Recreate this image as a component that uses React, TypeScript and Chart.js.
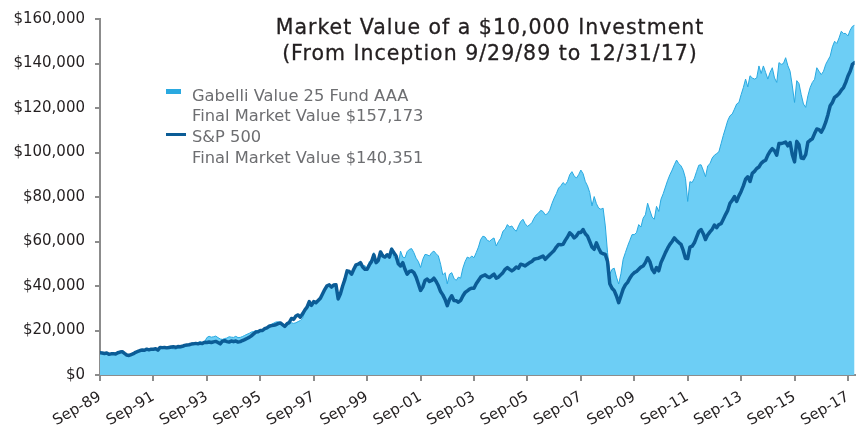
import React, { useEffect, useRef } from "react";
import { Chart, registerables } from "chart.js";

Chart.register(...registerables);

// Monthly, Sep-89 (index 0) through Dec-17 (index 339); values in $ thousands
const xTickLabels = [
  "Sep-89", "Sep-91", "Sep-93", "Sep-95", "Sep-97", "Sep-99", "Sep-01", "Sep-03",
  "Sep-05", "Sep-07", "Sep-09", "Sep-11", "Sep-13", "Sep-15", "Sep-17",
];

const gabelliK = [
  10.0, 9.8, 9.6, 9.7, 9.2, 9.4, 9.5, 9.3, 9.8, 10.1, 10.2, 9.5,
  8.8, 8.6, 9.0, 9.4, 10.0, 10.5, 10.9, 11.1, 11.0, 11.4, 11.2, 11.5,
  11.5, 11.6, 11.0, 12.1, 12.2, 12.3, 12.1, 11.9, 11.9, 11.8, 11.6, 12.0,
  12.1, 12.3, 12.6, 13.0, 13.5, 14.0, 14.3, 14.5, 14.6, 15.0, 14.5, 14.9,
  16.8, 17.4, 17.0, 17.2, 17.5, 16.8, 16.2, 16.0, 16.4, 16.6, 17.2, 17.0,
  16.9, 17.4, 16.8, 16.9, 17.3, 17.8, 18.3, 18.7, 19.3, 19.5, 20.0, 19.9,
  20.2, 20.4, 21.0, 21.5, 22.3, 22.8, 23.3, 23.8, 23.9, 23.6, 22.7, 22.5,
  23.0, 22.8, 23.5, 23.2, 23.5, 24.0, 24.5, 25.5, 28.5, 29.5, 31.0, 32.0,
  33.0, 32.8, 33.8, 34.5, 36.5, 38.5, 40.0, 40.5, 39.8, 40.8, 40.8, 35.0,
  36.8, 40.2, 43.0, 46.5, 46.5, 46.5, 47.5, 49.0, 50.5, 50.0, 48.8, 49.2,
  48.0, 51.0, 52.0, 55.0, 51.5, 52.5, 55.8, 54.5, 53.5, 54.5, 54.0, 57.2,
  53.0, 52.0, 49.8, 55.7, 53.0, 52.7, 55.5, 56.5, 56.8, 55.0, 52.5, 51.0,
  48.3, 52.0, 54.2, 54.0, 53.5, 55.0, 55.7, 54.5, 53.5, 49.8, 45.0, 46.0,
  41.0, 45.3, 46.0, 43.5, 42.5, 44.0, 43.5, 48.0, 51.0, 53.0, 52.5, 53.5,
  52.7, 55.0, 57.5, 60.9, 62.4, 62.0, 60.5, 60.1, 61.0, 61.6, 58.0, 60.0,
  61.5, 64.6, 65.5, 67.6, 66.5, 67.0, 65.5, 64.6, 67.0, 69.0, 70.0, 68.0,
  66.8, 67.5, 68.5, 70.5, 72.0, 72.8, 74.0, 73.5, 72.0, 72.5, 74.0, 77.0,
  79.5, 81.5, 84.0, 85.0, 86.5, 85.5, 87.0, 90.0, 91.4, 89.5, 88.5, 90.0,
  92.1, 90.5, 87.0, 85.0, 82.0, 76.0, 80.2, 77.0, 75.0, 74.5, 75.0, 67.0,
  55.0, 45.3, 47.5, 48.0, 44.0, 40.9, 45.5, 52.0, 55.0, 57.9, 60.5, 63.1,
  63.1, 64.0, 67.6, 66.5, 70.5, 72.0, 77.2, 74.0, 71.0, 70.0, 75.8, 73.5,
  79.0, 81.5, 84.5, 87.5, 90.0, 92.1, 94.5, 96.6, 95.0, 94.0, 92.0, 88.4,
  78.0, 86.9, 86.5, 88.4, 91.5, 94.3, 94.5, 92.0, 89.1, 94.0, 95.0, 97.5,
  98.8, 99.5, 100.3, 104.0, 107.7, 111.0, 114.4, 116.5, 117.3, 119.5, 121.8, 122.5,
  126.0, 129.2, 133.0, 129.5, 134.5, 133.5, 133.0, 133.5, 138.9, 135.5, 138.9, 136.0,
  133.0, 136.0, 138.1, 133.5, 131.5, 140.4, 139.6, 140.0, 142.6, 139.0, 136.5, 129.9,
  122.5, 132.3, 131.0, 126.0, 121.8, 120.3, 125.5, 129.2, 131.5, 132.9, 138.1, 136.5,
  135.0, 136.5, 139.6, 141.5, 143.3, 147.5, 150.0, 149.0, 151.5, 154.5, 153.5, 153.5,
  152.4, 155.0, 156.7, 157.2,
];

const sp500K = [
  10.0, 9.9, 9.7, 9.9, 9.3, 9.5, 9.6, 9.4, 10.0, 10.3, 10.5, 9.7,
  9.0, 8.8, 9.2, 9.6, 10.2, 10.6, 11.0, 11.2, 11.1, 11.6, 11.3, 11.6,
  11.6, 11.8, 11.2, 12.4, 12.3, 12.4, 12.2, 12.4, 12.6, 12.7, 12.4, 12.8,
  12.7, 12.9, 13.3, 13.5, 13.6, 13.9, 14.0, 14.2, 14.0, 14.3, 14.2, 14.7,
  14.6, 14.8, 14.6, 14.9, 15.1, 14.6, 14.0, 15.2, 15.4, 15.0, 14.8, 15.3,
  15.0, 15.3, 14.8, 15.0, 15.5, 15.9, 16.4, 16.9, 17.6, 18.5, 19.3, 19.4,
  20.0, 20.0, 20.8, 21.2, 21.9, 22.2, 22.4, 22.6, 23.1, 23.4, 22.6, 21.8,
  23.0, 23.6, 25.4, 25.0, 26.5, 27.0, 26.0, 27.5, 29.2, 30.5, 33.0, 31.3,
  33.0, 32.5, 33.5, 34.5, 36.5, 38.5, 40.1, 40.5, 39.5, 40.5, 40.6, 34.2,
  36.5, 40.0, 43.0, 46.8, 46.5, 45.3, 47.5, 49.5, 49.8, 50.5, 48.5, 47.5,
  47.5, 49.5, 51.0, 54.0, 50.5, 51.5, 55.3, 53.5, 53.0, 54.0, 53.0, 56.5,
  55.0, 53.5, 50.0, 49.0, 50.5, 47.5, 45.3, 46.5, 46.8, 46.0, 44.0, 41.0,
  38.0, 39.5, 42.5, 43.1, 42.0, 42.5, 43.5, 42.0, 40.1, 37.5, 36.0, 34.0,
  31.2, 34.0, 35.6, 33.5, 33.4, 32.7, 33.5, 35.5, 37.1, 37.8, 38.6, 39.0,
  39.0, 41.0, 42.5, 44.0, 44.6, 45.0, 44.2, 43.8, 44.6, 45.3, 43.5, 44.0,
  45.0, 46.0, 47.5, 48.3, 47.5, 46.8, 47.5, 48.5, 48.0, 49.8, 49.5, 49.0,
  49.8, 50.5, 51.0, 52.0, 52.3, 52.5, 53.0, 53.5, 52.0, 53.0, 54.0, 55.0,
  56.0, 57.5, 58.7, 58.5, 58.7, 60.5, 62.0, 63.9, 63.0, 61.6, 62.5, 64.0,
  64.0, 65.4, 63.5, 62.4, 60.0, 57.5, 56.5, 59.4, 57.0, 55.0, 54.5, 54.2,
  51.0, 41.0, 39.0, 37.9, 35.5, 32.5, 35.5, 38.6, 40.5, 41.6, 43.5, 45.0,
  46.0, 46.5, 47.5, 48.5, 49.0, 50.5, 52.7, 51.0, 47.5, 46.0, 48.3, 46.8,
  50.5, 52.7, 55.0, 57.0, 58.7, 60.0, 61.6, 60.5, 59.5, 58.7, 56.0, 52.5,
  52.3, 57.5, 57.9, 59.4, 62.0, 64.5, 65.4, 63.5, 60.9, 63.0, 64.3, 65.5,
  67.4, 66.2, 67.6, 68.0, 70.0, 72.1, 74.0, 77.2, 78.5, 80.2, 78.0, 80.5,
  82.5, 85.0, 88.0, 89.1, 87.0, 90.6, 91.5, 92.8, 93.5, 95.1, 96.0, 96.5,
  98.8, 100.5, 101.7, 100.8, 98.8, 104.0, 104.0, 104.3, 104.7, 103.0, 104.5, 99.0,
  95.8, 105.0, 103.5, 97.5, 97.3, 99.0, 104.7, 105.5, 106.2, 108.5, 110.6, 110.3,
  109.1, 111.0, 113.6, 117.0, 121.0, 122.5, 124.8, 125.5, 126.5, 128.0, 129.2, 131.5,
  134.4, 136.5, 139.6, 140.4,
];

const titleLines = [
  "Market Value of a $10,000 Investment",
  "(From Inception 9/29/89 to 12/31/17)",
];
const gabelliLegend = ["Gabelli Value 25 Fund AAA", "Final Market Value $157,173"];
const spLegend = ["S&P 500", "Final Market Value $140,351"];

const FONT = "'DejaVu Sans', 'Open Sans', sans-serif";
const AXIS = "#8c8c8c";
const TEXT = "#231f20";
const LEGEND_TEXT = "#6d6e71";
const GABELLI_FILL = "#6dcef5";
const GABELLI_EDGE = "#2aa9e0";
const SP_LINE = "#0b5c96";

export default function App() {
  const ref = useRef<HTMLCanvasElement>(null);

  useEffect(() => {
    if (!ref.current) return;
    const chart = new Chart(ref.current, {
      type: "line",
      data: {
        datasets: [
          {
            label: "S&P 500",
            data: sp500K.map((v, i) => ({ x: i, y: v })),
            borderColor: SP_LINE,
            borderWidth: 3.5,
            fill: false,
            pointRadius: 0,
            tension: 0,
            borderJoinStyle: "round",
            borderCapStyle: "round",
          },
          {
            label: "Gabelli Value 25 Fund AAA",
            data: gabelliK.map((v, i) => ({ x: i, y: v })),
            borderColor: GABELLI_EDGE,
            backgroundColor: GABELLI_FILL,
            borderWidth: 1,
            fill: "origin",
            pointRadius: 0,
            tension: 0,
          },
        ],
      },
      options: {
        responsive: false,
        animation: false,
        devicePixelRatio: 1,
        layout: { padding: { top: 16, right: 3, left: 0, bottom: 0 } },
        plugins: {
          legend: { display: false },
          tooltip: { enabled: false },
          title: { display: false },
        },
        scales: {
          x: {
            type: "linear",
            min: 0,
            max: 339,
            afterFit: (s: any) => {
              s.height = 52;
            },
            border: { display: true, color: AXIS, width: 2 },
            grid: {
              display: true,
              drawOnChartArea: false,
              drawTicks: true,
              tickLength: 6,
              color: AXIS,
              lineWidth: 2,
            },
            ticks: {
              stepSize: 24,
              includeBounds: false,
              maxTicksLimit: 30,
              autoSkip: false,
              minRotation: 30,
              maxRotation: 30,
              padding: 7,
              color: TEXT,
              font: { family: FONT, size: 15 },
              callback: (v: any) => {
                const idx = Number(v) / 24;
                return Number.isInteger(idx) ? xTickLabels[idx] : null;
              },
            },
          },
          y: {
            min: 0,
            max: 160,
            afterFit: (s: any) => {
              s.width = 100;
            },
            border: { display: true, color: AXIS, width: 2 },
            grid: {
              display: true,
              drawOnChartArea: false,
              drawTicks: true,
              tickLength: 5,
              color: AXIS,
              lineWidth: 2,
            },
            ticks: {
              stepSize: 20,
              padding: 10,
              color: TEXT,
              font: { family: FONT, size: 15 },
              callback: (v: any) => "$" + (Number(v) * 1000).toLocaleString("en-US"),
            },
          },
        },
      },
    });
    return () => chart.destroy();
  }, []);

  const legendText: React.CSSProperties = {
    position: "absolute",
    left: 192,
    fontFamily: FONT,
    fontSize: 16.3,
    lineHeight: "20px",
    color: LEGEND_TEXT,
    whiteSpace: "nowrap",
  };

  return (
    <div
      style={{
        position: "absolute",
        left: 0,
        top: 0,
        width: 864,
        height: 427,
        background: "#ffffff",
        overflow: "hidden",
      }}
    >
      <canvas ref={ref} width={864} height={427} style={{ display: "block" }} />
      <div
        style={{
          position: "absolute",
          left: 490,
          top: 14,
          transform: "translateX(-50%)",
          fontFamily: FONT,
          fontSize: 20.5,
          letterSpacing: "1px",
          lineHeight: "26px",
          color: TEXT,
          WebkitTextStroke: "0.3px " + TEXT,
          textAlign: "center",
          whiteSpace: "nowrap",
        }}
      >
        <div>{titleLines[0]}</div>
        <div>{titleLines[1]}</div>
      </div>
      <div
        style={{
          position: "absolute",
          left: 166,
          top: 89,
          width: 15,
          height: 5,
          background: GABELLI_EDGE,
        }}
      />
      <div style={{ ...legendText, top: 86.4 }}>{gabelliLegend[0]}</div>
      <div style={{ ...legendText, top: 106.4 }}>{gabelliLegend[1]}</div>
      <div
        style={{
          position: "absolute",
          left: 166,
          top: 133,
          width: 20,
          height: 3,
          background: SP_LINE,
        }}
      />
      <div style={{ ...legendText, top: 127.4 }}>{spLegend[0]}</div>
      <div style={{ ...legendText, top: 148.4 }}>{spLegend[1]}</div>
    </div>
  );
}
